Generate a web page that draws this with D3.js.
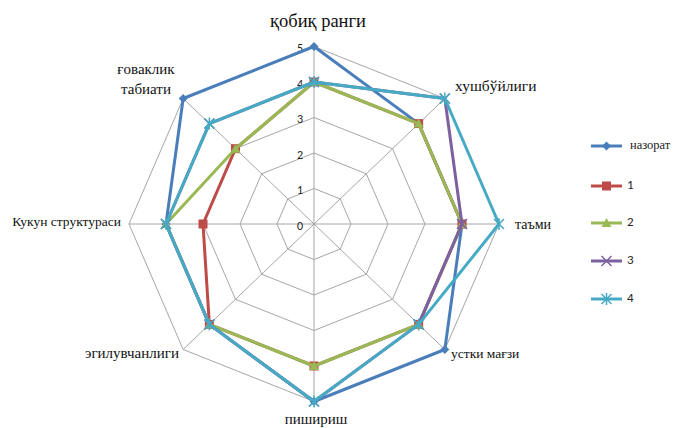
<!DOCTYPE html>
<html>
<head>
<meta charset="utf-8">
<script src="https://cdn.jsdelivr.net/npm/d3@7"></script>
<style>
html,body{margin:0;padding:0;background:#fff;}
svg{display:block;}
.serif{font-family:"Liberation Serif","Times New Roman",Tinos,"DejaVu Serif",serif;}
.sans{font-family:Carlito,Calibri,"Liberation Sans",Arial,sans-serif;}
</style>
</head>
<body>
<svg id="chart" width="676" height="428"></svg>
<script>
const axes = ["қобиқ ранги","хушбўйлиги","таъми","устки мағзи","пишириш","эгилувчанлиги","Кукун структураси","ғоваклик табиати"];
const seriesNames = ["назорат","1","2","3","4"];
const seriesColors = ["#4A7EBB","#BE4B48","#98B954","#7D60A0","#46AAC5"];
const seriesShapes = ["diamond","square","triangle","x","star"];
const vNazorat = [5,4,4,5,5,4,4,5];
const v1 = [4,4,4,4,4,4,3,3];
const v2 = [4,4,4,4,4,4,4,3];
const v3 = [4,5,4,4,5,4,4,4];
const v4 = [4,5,5,4,5,4,4,4];
const tickValues = [0,1,2,3,4,5];

const series = [vNazorat,v1,v2,v3,v4];
const svg = d3.select("#chart");
const cx = 314, cy = 224, Rx = 185, Ry = 177.5;
const r = d3.scaleLinear().domain([0,5]).range([0,1]);
const ang = d3.scaleLinear().domain([0, axes.length]).range([0, 2*Math.PI]);
function pt(i, v){ const a = ang(i); return [cx + Math.sin(a)*r(v)*Rx, cy - Math.cos(a)*r(v)*Ry]; }

const g = svg.append("g");
tickValues.filter(t=>t>0).forEach(t=>{
  const pts = axes.map((_,i)=>pt(i,t));
  g.append("path").attr("d", d3.line().curve(d3.curveLinearClosed)(pts))
   .attr("fill","none").attr("stroke","#A6A6A6").attr("stroke-width",1);
});
axes.forEach((_,i)=>{
  const p = pt(i,5);
  g.append("line").attr("x1",cx).attr("y1",cy).attr("x2",p[0]).attr("y2",p[1])
   .attr("stroke","#A6A6A6").attr("stroke-width",1);
});
tickValues.forEach(t=>{
  const p = pt(0,t);
  g.append("text").attr("class","sans").attr("x",p[0]-14).attr("y",p[1]+3).attr("text-anchor","middle")
   .attr("dominant-baseline","middle")
   .attr("font-size",12).attr("fill","#222").text(t);
});
const labelPos = [
  {x:318,y:23,anchor:"middle",size:18.5},
  {x:455,y:87,anchor:"start",size:15.5},
  {x:515,y:226,anchor:"start",size:14},
  {x:451,y:355,anchor:"start",size:13.5},
  {x:316,y:421,anchor:"middle",size:15},
  {x:179,y:355,anchor:"end",size:15},
  {x:121,y:223,anchor:"end",size:13.5},
  {x:146,y:71,anchor:"middle",size:15}
];
axes.forEach((a,i)=>{
  const lp = labelPos[i];
  const t = g.append("text").attr("class","serif").attr("x",lp.x).attr("y",lp.y).attr("text-anchor",lp.anchor)
   .attr("dominant-baseline","middle")
   .attr("font-size",lp.size).attr("fill","#111");
  if(i===7){
    const parts = a.split(" ");
    t.append("tspan").attr("x",lp.x).attr("dy",0).text(parts[0]);
    t.append("tspan").attr("x",lp.x).attr("dy",20).text(parts[1]);
  } else t.text(a);
});

function marker(sel, shape, color, x, y){
  const s = 4.5;
  if(shape==="diamond"){
    sel.append("path").attr("d",`M${x},${y-s}L${x+s},${y}L${x},${y+s}L${x-s},${y}Z`).attr("fill",color);
  } else if(shape==="square"){
    sel.append("rect").attr("x",x-4.5).attr("y",y-4.5).attr("width",9).attr("height",9).attr("fill",color);
  } else if(shape==="triangle"){
    sel.append("path").attr("d",`M${x},${y-5}L${x+5},${y+4}L${x-5},${y+4}Z`).attr("fill",color);
  } else if(shape==="x"){
    sel.append("path").attr("d",`M${x-5},${y-5}L${x+5},${y+5}M${x-5},${y+5}L${x+5},${y-5}`).attr("stroke",color).attr("stroke-width",1.5);
  } else {
    sel.append("path").attr("d",`M${x-5},${y-5}L${x+5},${y+5}M${x-5},${y+5}L${x+5},${y-5}M${x},${y-6}L${x},${y+6}`).attr("stroke",color).attr("stroke-width",1.5);
  }
}

series.forEach((vals,si)=>{
  const pts = vals.map((v,i)=>pt(i,v));
  const sg = g.append("g");
  sg.append("path").attr("d", d3.line().curve(d3.curveLinearClosed)(pts))
    .attr("fill","none").attr("stroke",seriesColors[si]).attr("stroke-width",3).attr("stroke-linejoin","round");
  pts.forEach(p=>marker(sg, seriesShapes[si], seriesColors[si], p[0], p[1]));
});

const legY = [146,186,223,261,299];
seriesNames.forEach((n,si)=>{
  const lg = g.append("g");
  lg.append("line").attr("x1",591).attr("x2",622).attr("y1",legY[si]).attr("y2",legY[si])
    .attr("stroke",seriesColors[si]).attr("stroke-width",3);
  marker(lg, seriesShapes[si], seriesColors[si], 606.5, legY[si]);
  const isSerif = si===0;
  lg.append("text").attr("class", isSerif?"serif":"sans").attr("x", isSerif?630:627).attr("y",legY[si]).attr("dominant-baseline","middle")
    .attr("font-size", isSerif?12.5:13).attr("fill","#222").text(n);
});
</script>
</body>
</html>
